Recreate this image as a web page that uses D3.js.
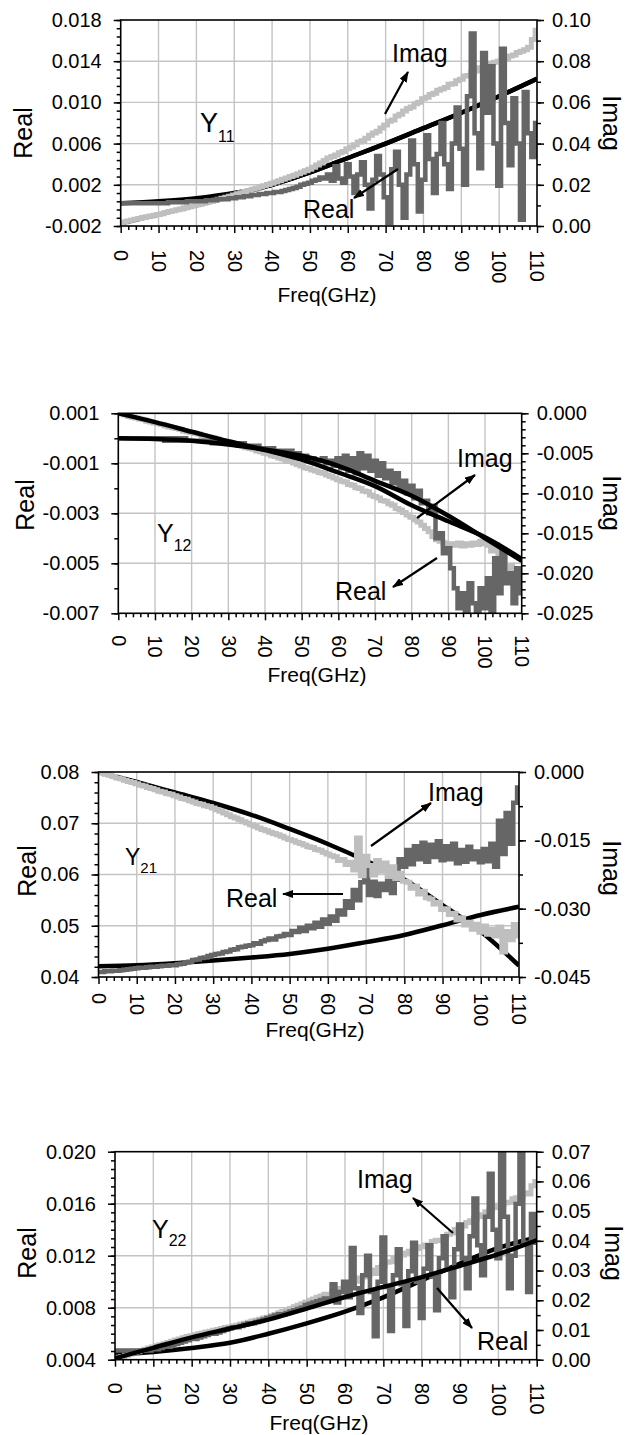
<!DOCTYPE html>
<html>
<head>
<meta charset="utf-8">
<script src="https://cdn.jsdelivr.net/npm/d3@7"></script>
<style>
body { margin: 0; background: #fff; }
svg text { font-family: "Liberation Sans", Arial, sans-serif; fill: #000; }
</style>
</head>
<body>
<svg id="chart" width="627" height="1435"></svg>
<script>
// frequency grids (GHz)
const freqModel = [0, 10, 20, 30, 40, 50, 60, 70, 80, 90, 100, 110]
const freqMeas = d3.range(0, 111)   // measured points, 1 GHz apart
const freqTicks = [0, 10, 20, 30, 40, 50, 60, 70, 80, 90, 100, 110]

// ---- Y11  (real x1e-4, imag x1e-3)
const y11RealMeas = [
  2,2,2,2,2,2,2,2,2,2,
  2,2,2,3,3,3,3,3,4,4,
  4,4,4,5,5,5,6,6,6,7,
  7,8,8,9,9,10,10,11,11,12,
  12,13,13,14,15,16,17,18,20,21,
  22,24,25,27,26,30,24,38,26,22,
  40,28,12,30,42,20,-3,25,48,30,
  8,-17,35,52,20,-12,30,63,40,-6,
  25,68,45,12,50,80,40,16,60,95,
  55,20,106,167,70,36,148,90,135,60,
  19,152,80,39,104,60,-14,110,70,47,80]
const y11ImagMeas = [
  1.5,2.0,2.4,2.8,3.3,3.7,4.1,4.5,4.9,5.2,
  5.6,6.0,6.5,7.0,7.4,7.9,8.3,8.8,9.3,9.7,
  10.2,10.6,11.1,11.5,12.0,12.5,13.0,13.5,14.0,14.5,
  15.0,15.6,16.1,16.7,17.2,17.8,18.3,18.9,19.5,20.1,
  20.7,21.4,22.0,22.7,23.3,24.0,24.6,25.4,26.1,26.8,
  27.5,28.5,29.6,30.6,31.8,33.0,33.7,34.5,35.6,36.2,
  37.5,38.3,39.5,40.8,41.4,42.6,44.0,45.2,46.0,47.6,
  49.0,50.8,51.5,53.4,54.2,55.8,57.0,57.8,59.4,60.1,
  61.8,62.5,63.8,64.4,65.9,66.5,67.2,68.8,69.0,70.5,
  71.2,72.8,73.0,74.6,75.2,76.8,76.5,78.2,78.8,79.5,
  80.0,81.2,80.8,82.5,83.0,84.2,84.8,85.5,86.8,90.5,95.0]
const y11RealModel = [2, 4, 7, 12, 20, 32, 46, 60, 75, 90, 106, 123]
const y11ImagModel = [1.3, 5.5, 10, 15, 20, 26, 33, 40, 47.5, 55, 63, 71.5]
const y11LeftTicks = [-0.002, 0.002, 0.006, 0.010, 0.014, 0.018]
const y11RightTicks = [0, 0.02, 0.04, 0.06, 0.08, 0.10]

// ---- Y12  (real x1e-4, imag x1e-4)
const y12RealMeas = [
  0,0,0,0,0,0,0,0,0,0,
  0,0,0,-1,0,-1,0,-1,0,-1,
  -1,-1,-1,-1,-1,-1,-2,-1,-2,-2,
  -2,-2,-2,-3,-2,-3,-3,-3,-3,-4,
  -4,-4,-4,-5,-5,-5,-6,-5,-6,-6,
  -7,-7,-8,-8,-9,-9,-8,-10,-9,-11,
  -8,-12,-7,-13,-8,-14,-6,-12,-7,-13,
  -9,-15,-10,-16,-13,-18,-14,-20,-17,-22,
  -19,-24,-21,-26,-25,-30,-27,-40,-38,-46,
  -44,-52,-60,-68,-62,-70,-58,-66,-72,-60,
  -68,-56,-70,-48,-62,-45,-58,-54,-66,-52,-62]
const y12ImagMeas = [
  0,-1,-2,-4,-5,-6,-7,-8,-10,-11,
  -12,-13,-14,-16,-17,-18,-19,-20,-22,-23,
  -24,-25,-26,-28,-29,-30,-31,-32,-34,-35,
  -36,-37,-39,-40,-41,-43,-44,-45,-47,-48,
  -50,-51,-53,-54,-56,-57,-59,-60,-62,-64,
  -66,-68,-69,-71,-72,-74,-75,-77,-79,-81,
  -83,-85,-86,-89,-90,-93,-94,-97,-98,-102,
  -104,-106,-109,-110,-113,-115,-119,-121,-124,-127,
  -130,-133,-136,-140,-144,-148,-154,-158,-160,-162,
  -164,-163,-165,-162,-166,-163,-165,-162,-164,-160,
  -163,-165,-172,-164,-185,-178,-210,-190,-205,-196,-212]
const y12RealModel = [0, -0.3, -1, -2.5, -4.5, -7, -11, -17, -23, -31, -40, -49]
const y12ImagModel = [0, -11, -23, -35, -46, -58, -74, -91, -115, -135, -155, -182]
const y12LeftTicks = [-0.007, -0.005, -0.003, -0.001, 0.001]
const y12RightTicks = [-0.025, -0.020, -0.015, -0.010, -0.005, 0]

// ---- Y21  (real x1e-3, imag x1e-3)
const y21RealMeas = [
  41.0,41.0,41.1,41.1,41.2,41.2,41.3,41.4,41.5,41.6,
  41.7,41.8,41.8,41.9,42.0,42.0,42.1,42.2,42.2,42.3,
  42.3,42.5,42.6,42.9,43.0,43.3,43.4,43.7,43.8,44.1,
  44.3,44.5,44.6,44.9,45.0,45.3,45.4,45.8,45.9,46.1,
  46.2,46.6,46.5,47.0,47.2,47.5,47.3,47.9,48.0,48.4,
  48.2,49.0,48.8,49.6,49.0,50.0,49.5,50.6,49.8,51.2,
  50.4,51.8,51.0,53.0,52.2,54.8,53.5,57.0,55.0,58.5,
  61.0,56.0,58.6,55.8,58.2,57.0,58.8,56.4,59.0,63.0,
  61.5,64.8,62.0,65.5,63.0,66.2,62.5,65.8,63.4,66.5,
  62.8,65.5,63.0,66.0,62.2,64.8,62.5,65.4,63.0,64.5,
  62.4,65.0,62.6,66.0,61.5,70.5,64.0,72.0,66.0,74.0,77.0]
const y21ImagMeas = [
  0,-0.2,-0.5,-0.7,-1.0,-1.3,-1.5,-1.8,-2.1,-2.3,
  -2.6,-2.9,-3.1,-3.4,-3.6,-3.9,-4.2,-4.4,-4.7,-4.9,
  -5.2,-5.5,-5.8,-6.0,-6.3,-6.6,-6.9,-7.1,-7.4,-7.6,
  -7.9,-8.3,-8.6,-9.0,-9.4,-9.8,-10.1,-10.5,-10.9,-11.2,
  -11.6,-11.9,-12.3,-12.6,-12.9,-13.2,-13.5,-13.8,-14.1,-14.5,
  -14.8,-15.1,-15.4,-15.7,-16.0,-16.4,-16.6,-17.0,-17.2,-17.6,
  -18.0,-18.4,-18.6,-19.4,-19.2,-20.3,-19.8,-21.5,-14.5,-22.8,
  -18.5,-20.5,-22.6,-19.4,-21.8,-20.0,-22.9,-20.8,-23.4,-22.2,
  -24.0,-24.2,-25.5,-25.0,-26.8,-26.2,-27.6,-27.9,-29.0,-28.6,
  -30.2,-30.0,-31.3,-31.0,-32.5,-32.0,-33.6,-33.0,-34.5,-33.4,
  -35.2,-33.8,-35.6,-34.6,-36.0,-34.0,-39.5,-35.0,-36.8,-33.5,-36.0]
const y21RealModel = [42.1, 42.3, 42.7, 43.2, 43.8, 44.5, 45.5, 46.8, 48.2, 50.1, 52.1, 53.7]
const y21ImagModel = [0, -2.2, -4.5, -6.8, -9.4, -12.5, -15.8, -19.5, -23.6, -29.2, -35.0, -42.5]
const y21LeftTicks = [0.04, 0.05, 0.06, 0.07, 0.08]
const y21RightTicks = [-0.045, -0.030, -0.015, 0]

// ---- Y22  (real x1e-4, imag x1e-3)
const y22RealMeas = [
  47,47,47,47,47,47,47,47,47,47,
  48,48,49,50,50,51,52,53,54,55,
  56,56,57,58,59,60,60,61,62,63,
  64,65,65,66,67,68,68,69,70,71,
  72,73,74,75,75,76,77,78,79,80,
  82,83,84,85,86,87,86,98,84,92,
  100,88,126,95,76,105,120,92,58,100,
  134,96,62,105,125,98,66,108,130,100,
  72,110,128,104,78,118,135,110,88,125,
  144,118,95,135,164,128,105,150,183,140,
  118,200,150,95,120,160,200,130,92,152,130]
const y22ImagMeas = [
  0.5,0.8,1.1,1.5,1.9,2.3,2.7,3.1,3.5,3.9,
  4.3,4.7,5.0,5.4,5.8,6.2,6.6,7.0,7.4,7.8,
  8.1,8.4,8.7,9.0,9.3,9.6,9.9,10.2,10.5,10.8,
  11.0,11.3,11.6,12.0,12.3,12.6,13.0,13.3,13.6,14.0,
  14.3,14.8,15.2,15.8,16.2,16.8,17.2,17.8,18.3,18.8,
  19.4,20.0,20.4,21.0,21.4,22.0,21.8,23.0,23.4,24.0,
  24.5,25.5,25.0,27.5,26.4,27.8,28.4,30.2,29.0,31.0,
  31.6,32.8,33.0,34.2,33.8,35.2,35.8,36.5,36.0,37.4,
  38.0,38.6,38.4,39.8,40.2,40.0,41.5,42.2,42.6,43.8,
  44.2,45.0,46.2,46.8,47.5,48.8,48.2,49.8,50.5,51.2,
  52.0,52.2,52.8,53.0,54.2,54.5,55.0,56.2,55.8,58.5,60.0]
const y22RealModel = [44, 46, 49, 53, 60, 68, 77, 88, 101, 114, 126, 134]
const y22ImagModel = [0.5, 4.0, 7.5, 10.5, 13.5, 17.2, 21.1, 24.5, 27.8, 31.6, 35.5, 40.2]
const y22LeftTicks = [0.004, 0.008, 0.012, 0.016, 0.020]
const y22RightTicks = [0, 0.01, 0.02, 0.03, 0.04, 0.05, 0.06, 0.07]

const darkGray = "#666666", lightGray = "#bfbfbf", gridGray = "#c4c4c4"

const svg = d3.select("#chart")
const defs = svg.append("defs")
defs.append("marker")
  .attr("id", "arrow").attr("markerUnits", "userSpaceOnUse")
  .attr("markerWidth", 11).attr("markerHeight", 8)
  .attr("refX", 10).attr("refY", 4).attr("orient", "auto")
  .append("path").attr("d", "M0,0 L11,4 L0,8 Z").attr("fill", "#000")

// drawing order of the four curves, bottom first
const panels = [
  { id: "p11", sub: "11", left: 120.7, right: 537, top: 20, bottom: 226,
    lDom: [-0.002, 0.018], rDom: [0, 0.10], lTicks: y11LeftTicks, rTicks: y11RightTicks,
    lMinor: 0.0008, rMinor: 0.01, lFmt: 3, rFmt: 2, rUnit: 1e-3, lUnit: 1e-4,
    realMeas: y11RealMeas, imagMeas: y11ImagMeas, realModel: y11RealModel, imagModel: y11ImagModel,
    order: ["realModel", "imagModel", "imagMeas", "realMeas"], labelGap: 24, freqY: 302, freqX: 327,
    realTitle: [32, 133], imagTitle: [603, 123],
    yLab: [200, 132, 27, 16, 10],
    imagTxt: [392, 62], imagArrow: [385, 114, 408, 72],
    realTxt: [303, 218], realArrow: [398, 169, 354, 198] },
  { id: "p12", sub: "12", left: 118.3, right: 521.7, top: 413.3, bottom: 613.3,
    lDom: [-0.007, 0.001], rDom: [-0.025, 0], lTicks: y12LeftTicks, rTicks: y12RightTicks,
    lMinor: 0.001, rMinor: 0.001, lFmt: 3, rFmt: 3, lUnit: 1e-4, rUnit: 1e-4,
    realMeas: y12RealMeas, imagMeas: y12ImagMeas, realModel: y12RealModel, imagModel: y12ImagModel,
    order: ["imagMeas", "realMeas", "realModel", "imagModel"], labelGap: 22, freqY: 682, freqX: 317,
    realTitle: [34, 505], imagTitle: [603, 503],
    yLab: [157, 542, 25, 16, 9],
    imagTxt: [457, 467], imagArrow: [417, 518, 475, 475],
    realTxt: [335, 600], realArrow: [437, 558, 393, 587] },
  { id: "p21", sub: "21", left: 98.5, right: 519, top: 772, bottom: 977,
    lDom: [0.04, 0.08], rDom: [-0.045, 0], lTicks: y21LeftTicks, rTicks: y21RightTicks,
    lMinor: 0.002, rMinor: 0.0075, lFmt: 2, rFmt: 3, lUnit: 1e-3, rUnit: 1e-3,
    realMeas: y21RealMeas, imagMeas: y21ImagMeas, realModel: y21RealModel, imagModel: y21ImagModel,
    order: ["realModel", "imagModel", "realMeas", "imagMeas"], labelGap: 16, freqY: 1037, freqX: 315,
    realTitle: [36, 871], imagTitle: [603, 868],
    yLab: [125, 865, 23, 15, 8],
    imagTxt: [428, 801], imagArrow: [371, 846, 431, 803],
    realTxt: [226, 907], realArrow: [343, 894, 283, 894] },
  { id: "p22", sub: "22", left: 115, right: 536.7, top: 1151.7, bottom: 1359.7,
    lDom: [0.004, 0.020], rDom: [0, 0.07], lTicks: y22LeftTicks, rTicks: y22RightTicks,
    lMinor: 0.004 / 6, rMinor: 0.005, lFmt: 3, rFmt: 2, lUnit: 1e-4, rUnit: 1e-3,
    realMeas: y22RealMeas, imagMeas: y22ImagMeas, realModel: y22RealModel, imagModel: y22ImagModel,
    order: ["realModel", "imagMeas", "realMeas", "imagModel"], labelGap: 23, freqY: 1430, freqX: 319,
    realTitle: [36, 1253], imagTitle: [605, 1253],
    yLab: [152, 1238, 25, 16, 8],
    imagTxt: [357, 1188], imagArrow: [453, 1233, 413, 1198],
    realTxt: [477, 1350], realArrow: [437, 1288, 472, 1328] }
]

function minorTicks(dom, step) {
  const lo = Math.min(dom[0], dom[1]), hi = Math.max(dom[0], dom[1])
  const n = Math.round((hi - lo) / step)
  return d3.range(0, n + 1).map(i => lo + i * step)
}

function drawPanel(p) {
  const g = svg.append("g").attr("id", p.id)
  const x = d3.scaleLinear().domain([0, 110]).range([p.left, p.right])
  const yL = d3.scaleLinear().domain(p.lDom).range([p.bottom, p.top])
  const yR = d3.scaleLinear().domain(p.rDom).range([p.bottom, p.top])

  defs.append("clipPath").attr("id", "clip-" + p.id)
    .append("rect").attr("x", p.left).attr("y", p.top)
    .attr("width", p.right - p.left).attr("height", p.bottom - p.top)

  // grid
  g.append("g").selectAll("line").data(freqTicks.slice(1, -1)).join("line")
    .attr("x1", d => x(d)).attr("x2", d => x(d)).attr("y1", p.top).attr("y2", p.bottom)
    .attr("stroke", gridGray).attr("stroke-width", 1.4)
  g.append("g").selectAll("line").data(p.lTicks.filter(t => t !== p.lDom[0] && t !== p.lDom[1])).join("line")
    .attr("x1", p.left).attr("x2", p.right).attr("y1", d => yL(d)).attr("y2", d => yL(d))
    .attr("stroke", gridGray).attr("stroke-width", 1.4)

  const plot = g.append("g").attr("clip-path", `url(#clip-${p.id})`)
  const measLine = (scale, unit) => d3.line().curve(d3.curveStep)
    .x((d, i) => x(freqMeas[i])).y(d => scale(d * unit))
  const modelLine = (scale, unit) => d3.line().curve(d3.curveMonotoneX)
    .x((d, i) => x(freqModel[i])).y(d => scale(d * unit))

  const series = {
    realModel: () => plot.append("path").attr("d", modelLine(yL, p.lUnit)(p.realModel))
      .attr("fill", "none").attr("stroke", "#000").attr("stroke-width", 4.5),
    imagModel: () => plot.append("path").attr("d", modelLine(yR, p.rUnit)(p.imagModel))
      .attr("fill", "none").attr("stroke", "#000").attr("stroke-width", 4.5),
    imagMeas: () => plot.append("path").attr("d", measLine(yR, p.rUnit)(p.imagMeas))
      .attr("fill", "none").attr("stroke", lightGray).attr("stroke-width", 5),
    realMeas: () => plot.append("path").attr("d", measLine(yL, p.lUnit)(p.realMeas))
      .attr("fill", "none").attr("stroke", darkGray).attr("stroke-width", 4.5)
  }
  p.order.forEach(k => series[k]())

  // frame
  g.append("rect").attr("x", p.left).attr("y", p.top)
    .attr("width", p.right - p.left).attr("height", p.bottom - p.top)
    .attr("fill", "none").attr("stroke", "#000").attr("stroke-width", 1.6)

  const style = sel => {
    sel.attr("font-size", null).attr("font-family", null)
    sel.select(".domain").remove()
    sel.selectAll(".tick line").attr("stroke-width", 1.5)
  }

  // bottom axis
  const xMinor = d3.range(0, 111, 2).filter(v => v % 10 !== 0)
  g.append("g").attr("transform", `translate(0,${p.bottom})`)
    .call(d3.axisBottom(x).tickValues(xMinor).tickSize(4).tickFormat(""))
    .call(style)
  const xa = g.append("g").attr("transform", `translate(0,${p.bottom})`)
    .call(d3.axisBottom(x).tickValues(freqTicks).tickSize(7).tickFormat(d => String(d)))
    .call(style)
  xa.selectAll("text")
    .attr("transform", "rotate(90)")
    .attr("x", p.labelGap).attr("y", 0).attr("dy", "0.36em")
    .attr("text-anchor", "start").attr("font-size", 20)

  // left axis
  g.append("g").attr("transform", `translate(${p.left},0)`)
    .call(d3.axisLeft(yL).tickValues(minorTicks(p.lDom, p.lMinor)).tickSize(4).tickFormat(""))
    .call(style)
  g.append("g").attr("transform", `translate(${p.left},0)`)
    .call(d3.axisLeft(yL).tickValues(p.lTicks).tickSize(7).tickPadding(12)
      .tickFormat(d => d.toFixed(p.lFmt)))
    .call(style)
    .selectAll("text").attr("font-size", 20)

  // right axis
  g.append("g").attr("transform", `translate(${p.right},0)`)
    .call(d3.axisRight(yR).tickValues(minorTicks(p.rDom, p.rMinor)).tickSize(4).tickFormat(""))
    .call(style)
  g.append("g").attr("transform", `translate(${p.right},0)`)
    .call(d3.axisRight(yR).tickValues(p.rTicks).tickSize(7).tickPadding(8)
      .tickFormat(d => d.toFixed(p.rFmt)))
    .call(style)
    .selectAll("text").attr("font-size", 20)

  // titles
  g.append("text").attr("transform", `translate(${p.realTitle[0]},${p.realTitle[1]}) rotate(-90)`)
    .attr("text-anchor", "middle").attr("font-size", 25).text("Real")
  g.append("text").attr("transform", `translate(${p.imagTitle[0]},${p.imagTitle[1]}) rotate(90)`)
    .attr("text-anchor", "middle").attr("font-size", 25).text("Imag")
  g.append("text").attr("x", p.freqX).attr("y", p.freqY)
    .attr("text-anchor", "middle").attr("font-size", 21).text("Freq(GHz)")

  // Yij label
  const yl = g.append("text").attr("x", p.yLab[0]).attr("y", p.yLab[1]).attr("font-size", p.yLab[2])
  yl.append("tspan").text("Y")
  yl.append("tspan").attr("font-size", p.yLab[3]).attr("dy", p.yLab[4]).text(p.sub)

  // annotations
  g.append("text").attr("x", p.imagTxt[0]).attr("y", p.imagTxt[1]).attr("font-size", 25).text("Imag")
  g.append("text").attr("x", p.realTxt[0]).attr("y", p.realTxt[1]).attr("font-size", 25).text("Real")
  ;[p.imagArrow, p.realArrow].forEach(a => {
    g.append("line").attr("x1", a[0]).attr("y1", a[1]).attr("x2", a[2]).attr("y2", a[3])
      .attr("stroke", "#000").attr("stroke-width", 2.2).attr("marker-end", "url(#arrow)")
  })
}

panels.forEach(drawPanel)
</script>
</body>
</html>
